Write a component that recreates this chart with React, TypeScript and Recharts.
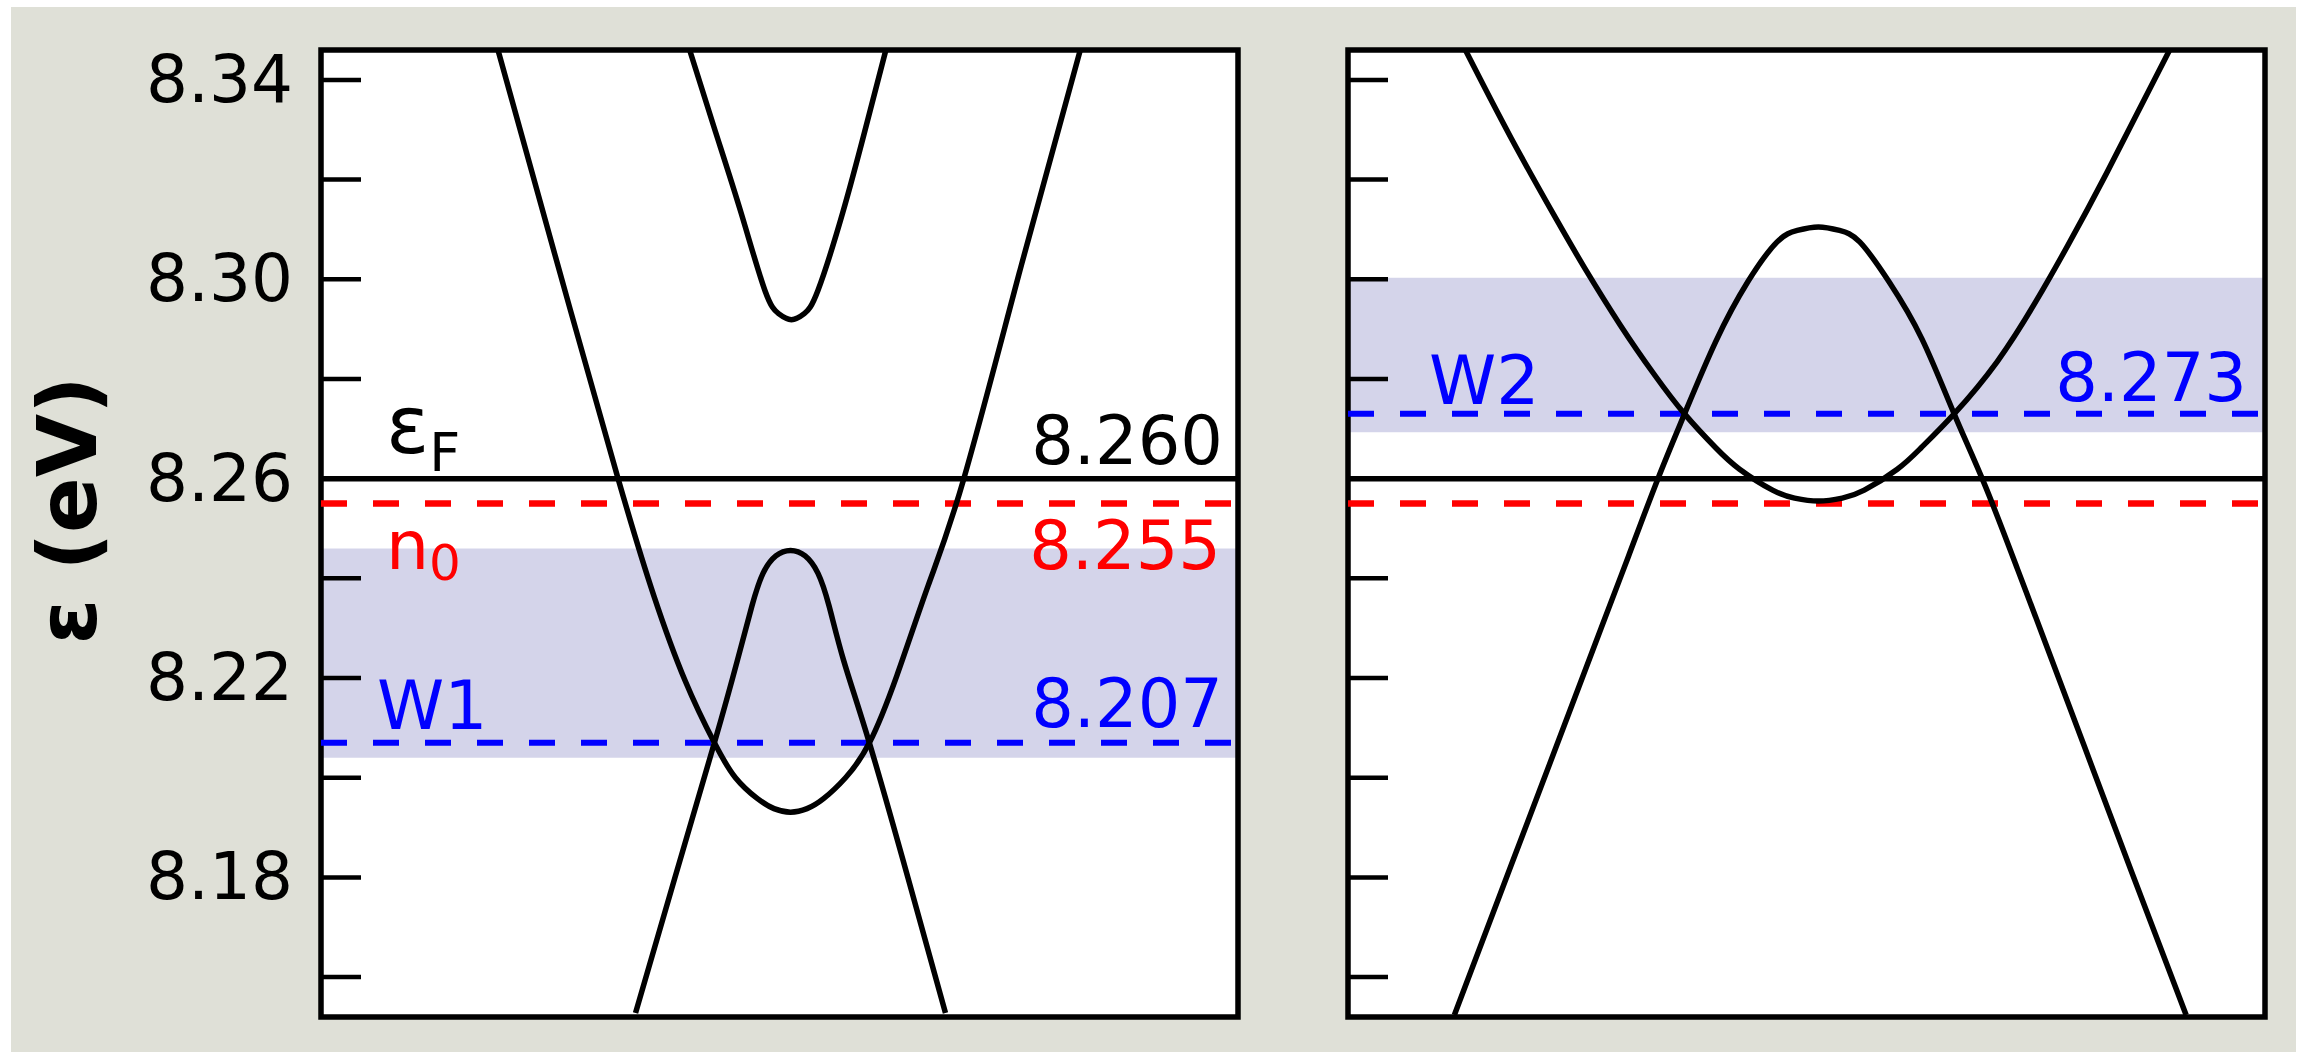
import React from "react";
import {
  ComposedChart,
  Line,
  XAxis,
  YAxis,
  ReferenceLine,
  ReferenceArea,
} from "recharts";

const FONT = "'DejaVu Sans', sans-serif";

// energy window shown in both panels (eV)
const E_MIN = 8.152;
const E_MAX = 8.346;
const energyTicks = [8.16, 8.18, 8.2, 8.22, 8.24, 8.26, 8.28, 8.3, 8.32, 8.34];
const energyTickLabels = ["8.18", "8.22", "8.26", "8.30", "8.34"];

// reference levels
const FERMI = 8.26;
const N0_LEVEL = 8.255;
const W1_LEVEL = 8.207;
const W2_LEVEL = 8.273;

// shaded energy windows
const window1 = [8.204, 8.246];
const window2 = [8.2693, 8.3003];

// bands along k (0..100 across the panel), energies in eV
const leftOuter: [number, number][] = [
  [19.3, 8.346], [25.8, 8.303], [32.4, 8.26], [36.3, 8.2365], [39.7, 8.2195],
  [42.9, 8.207], [45.2, 8.2], [47.6, 8.1958], [49.4, 8.1938], [51.2, 8.1931],
  [53.0, 8.1938], [54.8, 8.1958], [57.2, 8.2], [59.8, 8.207], [62.8, 8.2205],
  [66.2, 8.2385], [70.1, 8.26], [76.4, 8.303], [82.8, 8.346],
];
const leftHump: [number, number][] = [
  [34.3, 8.1528], [38.6, 8.18], [42.9, 8.207], [45.4, 8.2235], [47.0, 8.2345],
  [48.2, 8.241], [49.6, 8.2445], [51.2, 8.2456], [52.8, 8.2445], [54.2, 8.241],
  [55.4, 8.2345], [57.0, 8.2235], [59.8, 8.207], [64.0, 8.18], [68.1, 8.1528],
];
const leftUpper: [number, number][] = [
  [40.2, 8.346], [43.0, 8.3297], [45.8, 8.3134], [48.4, 8.2978], [49.9, 8.2931],
  [51.3, 8.2919], [52.7, 8.2931], [54.2, 8.2978], [56.9, 8.3134], [59.3, 8.3297],
  [61.6, 8.346],
];
const rightOuter: [number, number][] = [
  [12.8, 8.346], [17.8, 8.3283], [22.7, 8.3121], [25.8, 8.3023], [29.7, 8.2908],
  [33.4, 8.2809], [36.7, 8.273], [40.1, 8.2662], [42.7, 8.2619], [46.3, 8.2577],
  [48.7, 8.2561], [51.3, 8.2555], [53.9, 8.2561], [56.3, 8.2577], [59.9, 8.2619],
  [62.5, 8.2662], [66.1, 8.273], [70.8, 8.2835], [75.0, 8.2955], [78.5, 8.3068],
  [82.7, 8.3212], [89.6, 8.346],
];
const rightHump: [number, number][] = [
  [11.6, 8.1524], [17.8, 8.1825], [22.7, 8.2062], [27.6, 8.23], [30.6, 8.2445],
  [33.8, 8.26], [36.7, 8.273], [40.1, 8.2875], [43.6, 8.2995], [46.8, 8.3075],
  [49.0, 8.3098], [51.3, 8.3105], [53.6, 8.3098], [55.8, 8.3075], [59.0, 8.2995],
  [62.6, 8.288], [66.1, 8.273], [69.5, 8.2585], [73.0, 8.2419], [75.7, 8.2288],
  [80.3, 8.2063], [85.5, 8.1809], [91.4, 8.1524],
];

const toRows = (pts: [number, number][]) => pts.map(([k, e]) => ({ k, e }));

function EnergyTick(props: any) {
  const { x, y, payload, showLabels } = props;
  const label = Number(payload.value).toFixed(2);
  return (
    <g>
      <line x1={x} x2={x + 40} y1={y} y2={y} stroke="#000" strokeWidth={4.5} />
      {showLabels && energyTickLabels.includes(label) && (
        <text
          x={x - 28}
          y={y}
          dy={22}
          textAnchor="end"
          fontSize={66}
          fontFamily={FONT}
          fill="#000"
        >
          {label}
        </text>
      )}
    </g>
  );
}

type TagProps = {
  viewBox?: { x: number; y: number; width: number; height: number };
  color: string;
  name?: string;
  nameSize?: number;
  sub?: string;
  subSize?: number;
  subDy?: number;
  nameLeft?: number;
  nameRise?: number;
  value?: string;
  valueRight?: number;
  valueRise?: number;
};

// name on the left end of a level, value on the right end
function LevelTags(props: TagProps) {
  const { viewBox, color, name, nameSize = 68, sub, subSize = 52, subDy = 16 } = props;
  const { nameLeft = 60, nameRise = 14, value, valueRight = 15, valueRise = 15 } = props;
  if (!viewBox) return null;
  const { x, y, width } = viewBox;
  return (
    <g fontFamily={FONT}>
      {name && (
        <text x={x + nameLeft} y={y - nameRise} fontSize={nameSize} fill={color}>
          {name}
          {sub && (
            <tspan dy={subDy} fontSize={subSize}>
              {sub}
            </tspan>
          )}
        </text>
      )}
      {value && (
        <text
          x={x + width - valueRight}
          y={y - valueRise}
          fontSize={67}
          textAnchor="end"
          fill={color}
        >
          {value}
        </text>
      )}
    </g>
  );
}

function AxisTitle(props: any) {
  const vb = props.viewBox;
  if (!vb) return null;
  const x = vb.x + 96;
  const y = vb.y + vb.height / 2 - 23;
  return (
    <text
      x={x}
      y={y}
      transform={`rotate(-90, ${x}, ${y})`}
      textAnchor="middle"
      fontSize={82}
      fontWeight="bold"
      fontFamily={FONT}
      fill="#000"
    >
      ε (eV)
    </text>
  );
}

type PanelProps = {
  width: number;
  axisWidth: number;
  marginRight: number;
  showLabels: boolean;
  bands: [number, number][][];
  window: number[];
  weyl: number;
  weylName: string;
  weylTag: Partial<TagProps>;
  levelTags: boolean;
};

function BandPanel(p: PanelProps) {
  return (
    <ComposedChart
      width={p.width}
      height={1052}
      margin={{ top: 50, right: p.marginRight, bottom: 35, left: 0 }}
    >
      <XAxis dataKey="k" type="number" domain={[0, 100]} hide allowDataOverflow />
      <YAxis
        type="number"
        domain={[E_MIN, E_MAX]}
        allowDataOverflow
        ticks={energyTicks}
        interval={0}
        width={p.axisWidth}
        tickSize={0}
        tickMargin={0}
        axisLine={false}
        tickLine={false}
        tick={(t: any) => <EnergyTick {...t} showLabels={p.showLabels} />}
        label={p.showLabels ? (l: any) => <AxisTitle {...l} /> : undefined}
      />
      <ReferenceArea
        x1={0}
        x2={100}
        y1={E_MIN}
        y2={E_MAX}
        fill="#fff"
        fillOpacity={1}
        stroke="none"
        ifOverflow="visible"
      />
      <ReferenceArea
        x1={0}
        x2={100}
        y1={p.window[0]}
        y2={p.window[1]}
        fill="#000080"
        fillOpacity={0.17}
        stroke="none"
        ifOverflow="visible"
      />
      <ReferenceLine
        y={FERMI}
        stroke="#000"
        strokeWidth={5.5}
        ifOverflow="visible"
        label={
          p.levelTags
            ? (l: any) => (
                <LevelTags
                  {...l}
                  color="#000"
                  name="ε"
                  nameSize={80}
                  sub="F"
                  subSize={54}
                  subDy={18}
                  nameLeft={65}
                  nameRise={26}
                  value="8.260"
                  valueRight={15}
                  valueRise={15}
                />
              )
            : undefined
        }
      />
      <ReferenceLine
        y={N0_LEVEL}
        stroke="#ff0000"
        strokeWidth={6.5}
        strokeDasharray="26 26"
        ifOverflow="visible"
        label={
          p.levelTags
            ? (l: any) => (
                <LevelTags
                  {...l}
                  color="#ff0000"
                  name="n"
                  nameSize={68}
                  sub="0"
                  subSize={50}
                  subDy={11}
                  nameLeft={65}
                  nameRise={-65}
                  value="8.255"
                  valueRight={17}
                  valueRise={-65}
                />
              )
            : undefined
        }
      />
      <ReferenceLine
        y={p.weyl}
        stroke="#0000ff"
        strokeWidth={6}
        strokeDasharray="26 26"
        ifOverflow="visible"
        label={(l: any) => (
          <LevelTags {...l} color="#0000ff" name={p.weylName} {...p.weylTag} />
        )}
      />
      {p.bands.map((b, i) => (
        <Line
          key={i}
          data={toRows(b)}
          dataKey="e"
          type="natural"
          stroke="#000"
          strokeWidth={5.5}
          dot={false}
          activeDot={false}
          isAnimationActive={false}
        />
      ))}
      <ReferenceArea
        x1={0}
        x2={100}
        y1={E_MIN}
        y2={E_MAX}
        fill="none"
        stroke="#000"
        strokeWidth={5.5}
        ifOverflow="visible"
      />
    </ComposedChart>
  );
}

export default function App() {
  return (
    <div
      style={{
        position: "absolute",
        left: 0,
        top: 0,
        width: 2303,
        height: 1052,
        background: "#fff",
        overflow: "hidden",
      }}
    >
      <div
        style={{
          position: "absolute",
          left: 11,
          top: 7,
          right: 7,
          bottom: 0,
          background: "#dfe0d7",
        }}
      />
      <div style={{ position: "absolute", left: 0, top: 0 }}>
        <BandPanel
          width={1250}
          axisWidth={321}
          marginRight={12}
          showLabels
          bands={[leftOuter, leftHump, leftUpper]}
          window={window1}
          weyl={W1_LEVEL}
          weylName="W1"
          weylTag={{ nameLeft: 56, nameRise: 14, value: "8.207", valueRight: 15, valueRise: 16 }}
          levelTags
        />
      </div>
      <div style={{ position: "absolute", left: 1300, top: 0 }}>
        <BandPanel
          width={1003}
          axisWidth={48}
          marginRight={38}
          showLabels={false}
          bands={[rightOuter, rightHump]}
          window={window2}
          weyl={W2_LEVEL}
          weylName="W2"
          weylTag={{ nameLeft: 81, nameRise: 10, value: "8.273", valueRight: 18, valueRise: 13 }}
          levelTags={false}
        />
      </div>
    </div>
  );
}
